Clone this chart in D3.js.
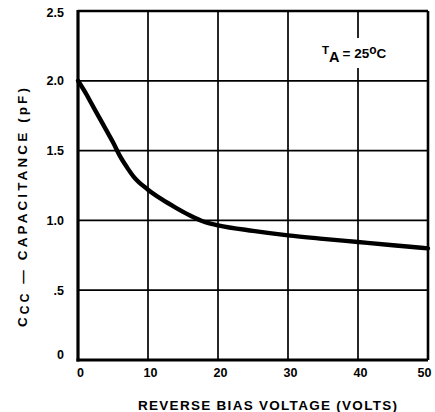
<!DOCTYPE html>
<html>
<head>
<meta charset="utf-8">
<script src="https://cdn.jsdelivr.net/npm/d3@7"></script>
<style>
  html, body { margin: 0; padding: 0; background: #fff; }
  text { font-family: "Liberation Sans", Arial, sans-serif; fill: #000; }
</style>
</head>
<body>
<svg id="chart" width="435" height="412"></svg>
<script>
// Reverse bias voltage (V) and junction capacitance C_CC (pF), TA = 25°C
const voltage = [0, 1, 2, 3, 4, 5, 6, 7, 8, 10, 12, 14, 16, 18, 20, 25, 30, 35, 40, 45, 50];
const capacitance = [2.0, 1.92, 1.83, 1.74, 1.65, 1.56, 1.46, 1.38, 1.31, 1.22, 1.15, 1.09, 1.035, 0.99, 0.965, 0.925, 0.893, 0.868, 0.845, 0.822, 0.80];

const xTicks = [0, 10, 20, 30, 40, 50];
const yTicks = [0, 0.5, 1.0, 1.5, 2.0, 2.5];
const yTickLabels = ["0", ".5", "1.0", "1.5", "2.0", "2.5"];

const svg = d3.select("#chart");
const plotL = 78, plotR = 428, plotT = 11, plotB = 360;

const x = d3.scaleLinear().domain([0, 50]).range([plotL, plotR]);
const y = d3.scaleLinear().domain([0, 2.5]).range([plotB, plotT]);

// grid
const grid = svg.append("g");
grid.selectAll(".vg").data(xTicks.slice(1, -1)).join("line")
  .attr("x1", d => x(d)).attr("x2", d => x(d))
  .attr("y1", plotT).attr("y2", plotB)
  .attr("stroke", "#000").attr("stroke-width", 1.7);
grid.selectAll(".hg").data(yTicks.slice(1, -1)).join("line")
  .attr("x1", plotL).attr("x2", plotR)
  .attr("y1", d => y(d)).attr("y2", d => y(d))
  .attr("stroke", "#000").attr("stroke-width", 1.7);

// annotation with a white backing
const ann = svg.append("g").attr("transform", "translate(322,58)");
ann.append("rect").attr("x", -4).attr("y", -20).attr("width", 74).attr("height", 30).attr("fill", "#fff");
const annText = ann.append("text").attr("font-size", 13.5).attr("font-weight", "bold");
annText.append("tspan").attr("dy", -4).attr("font-size", 11.5).text("T");
annText.append("tspan").attr("dy", 8).attr("font-size", 14.5).text("A");
annText.append("tspan").attr("dy", -4.5).attr("dx", 3).text("= 25");
annText.append("tspan").attr("dy", -4).attr("font-size", 12).text("o");
annText.append("tspan").attr("dy", 4).text("C");

// frame
svg.append("line").attr("x1", plotL).attr("x2", plotR).attr("y1", plotT).attr("y2", plotT)
  .attr("stroke", "#000").attr("stroke-width", 2.6);
svg.append("line").attr("x1", plotR).attr("x2", plotR).attr("y1", plotT).attr("y2", plotB)
  .attr("stroke", "#000").attr("stroke-width", 2.6);
svg.append("line").attr("x1", plotL).attr("x2", plotL).attr("y1", plotT - 1).attr("y2", plotB + 1.5)
  .attr("stroke", "#000").attr("stroke-width", 3.2);
svg.append("line").attr("x1", plotL - 1.5).attr("x2", plotR).attr("y1", plotB).attr("y2", plotB)
  .attr("stroke", "#000").attr("stroke-width", 3.2);

// curve
const line = d3.line().x((d, i) => x(voltage[i])).y(d => y(d)).curve(d3.curveMonotoneX);
svg.append("path").datum(capacitance).attr("d", line)
  .attr("fill", "none").attr("stroke", "#000").attr("stroke-width", 4.4)
  .attr("stroke-linejoin", "round").attr("stroke-linecap", "round");

// axes (labels only)
const xAxis = d3.axisBottom(x).tickValues(xTicks).tickSize(0).tickPadding(0);
const gx = svg.append("g").attr("transform", `translate(0,${plotB + 8})`).call(xAxis);
gx.select(".domain").remove();
gx.selectAll("text").attr("font-size", 12.5).attr("font-weight", "bold")
  .attr("font-family", "Liberation Sans, Arial, sans-serif").attr("fill", "#000")
  .attr("dx", d => d === 50 ? -4 : 2);

const yAxis = d3.axisLeft(y).tickValues(yTicks).tickSize(0).tickPadding(0)
  .tickFormat((d, i) => yTickLabels[i]);
const gy = svg.append("g").attr("transform", `translate(${plotL - 14},0)`).call(yAxis);
gy.select(".domain").remove();
gy.selectAll("text").attr("font-size", 12.5).attr("font-weight", "bold")
  .attr("font-family", "Liberation Sans, Arial, sans-serif").attr("fill", "#000")
  .attr("dy", d => d === 0 ? "-0.1em" : d === 2.5 ? "0.45em" : "0.32em");

// axis titles
svg.append("text").attr("x", 267.5).attr("y", 409.5).attr("text-anchor", "middle")
  .attr("font-size", 13.5).attr("font-weight", "bold")
  .attr("textLength", 259).attr("lengthAdjust", "spacing")
  .text("REVERSE BIAS VOLTAGE (VOLTS)");

const yt = svg.append("text").attr("transform", "translate(27,207.5) rotate(-90)")
  .attr("text-anchor", "middle").attr("font-size", 13.5).attr("font-weight", "bold")
  .attr("textLength", 239).attr("lengthAdjust", "spacing");
yt.append("tspan").text("C");
yt.append("tspan").attr("font-size", 12).attr("dy", 1.5).text("CC");
yt.append("tspan").attr("dy", -1.5).text(" \u2014 CAPACITANCE (pF)");
</script>
</body>
</html>
